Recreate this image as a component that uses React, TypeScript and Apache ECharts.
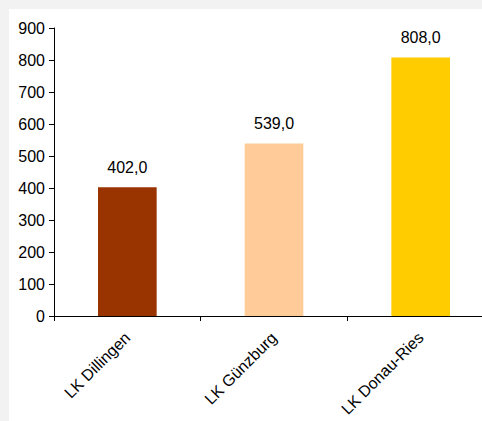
import React, { useEffect, useRef } from "react";
import * as echarts from "echarts";

const categories = ["LK Dillingen", "LK Günzburg", "LK Donau-Ries"];
const values = [402, 539, 808];
const colors = ["#993300", "#FFCC99", "#FFCC00"];
const yTicks = { min: 0, max: 900, interval: 100 };

export default function App() {
  const ref = useRef<HTMLDivElement>(null);
  useEffect(() => {
    if (!ref.current) return;
    const chart = echarts.init(ref.current, undefined, { renderer: "svg" });
    const font = "'Liberation Sans', Arial, sans-serif";
    chart.setOption({
      animation: false,
      backgroundColor: "#ffffff",
      grid: { left: 45, top: 19, right: 15, bottom: 105, containLabel: false },
      xAxis: {
        type: "category",
        data: categories,
        axisLine: { lineStyle: { color: "#000000", width: 1 } },
        axisTick: { show: true, length: 5, inside: false, lineStyle: { color: "#000000" } },
        axisLabel: {
          rotate: 45,
          fontSize: 16,
          fontFamily: font,
          color: "#000000",
          margin: 19,
          interval: 0,
        },
      },
      yAxis: {
        type: "value",
        min: yTicks.min,
        max: yTicks.max,
        interval: yTicks.interval,
        splitLine: { show: false },
        axisLine: { show: true, lineStyle: { color: "#000000", width: 1 } },
        axisTick: { show: true, length: 5, lineStyle: { color: "#000000" } },
        axisLabel: { fontSize: 16, fontFamily: font, color: "#000000", margin: 9 },
      },
      series: [
        {
          type: "bar",
          barWidth: "40%",
          data: values.map((v, i) => ({ value: v, itemStyle: { color: colors[i] } })),
          label: {
            show: true,
            position: "top",
            distance: 12,
            fontSize: 16,
            fontFamily: font,
            color: "#000000",
            formatter: (p: any) => p.value.toFixed(1).replace(".", ","),
          },
        },
      ],
    });
    return () => chart.dispose();
  }, []);
  return (
    <div
      style={{
        position: "fixed",
        left: 0,
        top: 0,
        width: 482,
        height: 421,
        background: "#f2f2f2",
        overflow: "hidden",
      }}
    >
      <div
        ref={ref}
        style={{ position: "absolute", left: 9, top: 9, width: 500, height: 412 }}
      />
    </div>
  );
}
